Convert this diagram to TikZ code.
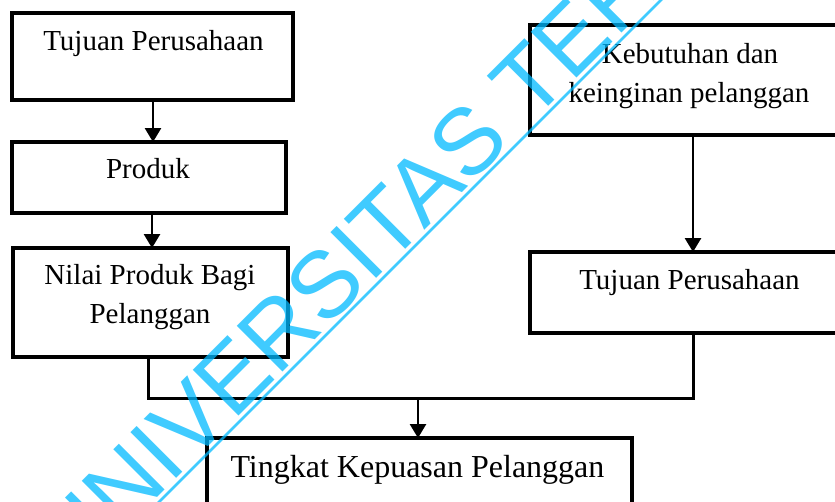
\documentclass[tikz,border=0pt]{standalone}
\usepackage{fontspec}
\setmainfont{Liberation Serif}
\newfontfamily\wmfont{Liberation Sans}
\usetikzlibrary{arrows.meta}
\definecolor{wmcyan}{RGB}{0,185,255}
\begin{document}
\begin{tikzpicture}[x=1pt,y=-1pt,
  box/.style={draw, line width=3.2pt, inner sep=0pt, outer sep=0pt},
  txt/.style={inner sep=0pt, font=\fontsize{29}{39}\selectfont, align=center},
  bigtxt/.style={inner sep=0pt, font=\fontsize{32}{40}\selectfont},
  arr/.style={line width=2.8pt, -{Triangle[width=16pt,length=14pt]}},
  conn/.style={line width=3pt, line join=miter},
  wm/.style={font=\wmfont\fontsize{94}{94}\selectfont, text=wmcyan, opacity=0.75, inner sep=0pt},
  wmline/.style={draw=wmcyan, opacity=0.75, line width=2.5pt},
]
\useasboundingbox (0,0) rectangle (835,501);
\clip (0,0) rectangle (835,501);

% boxes
\node[box, minimum width=281pt, minimum height=87pt] (b1) at (152.5,56.5) {};
\node[box, minimum width=274pt, minimum height=71pt] (b2) at (149,177.5) {};
\node[box, minimum width=275pt, minimum height=109pt] (b3) at (150.5,302.5) {};
\node[box, minimum width=319pt, minimum height=110pt] (k) at (689.5,80) {};
\node[box, minimum width=319pt, minimum height=81pt] (tp) at (689.5,292.5) {};
\node[box, minimum width=425pt, minimum height=82pt] (tk) at (419.5,479) {};

% texts
\node[txt, anchor=base] (t1) at (153.5,50) {Tujuan Perusahaan};
\node[txt, anchor=base] (t2) at (148,178) {Produk};
\node[txt, anchor=base] (t3a) at (150,284) {Nilai Produk Bagi};
\node[txt, anchor=base] (t3b) at (150,323) {Pelanggan};
\node[txt, anchor=base] (tka) at (690,63) {Kebutuhan dan};
\node[txt, anchor=base] (tkb) at (689,102) {keinginan pelanggan};
\node[txt, anchor=base] (ttp) at (689.5,289) {Tujuan Perusahaan};
\node[bigtxt, anchor=base] (ttk) at (417.5,477) {Tingkat Kepuasan Pelanggan};

% connectors
\coordinate (j1) at (148,398);
\coordinate (j2) at (693,398);
\coordinate (jm) at (418,398);
\draw[arr] (b1.south -| 153,0) -- (b2.north -| 153,0);
\draw[arr] (b2.south -| 152,0) -- (b3.north -| 152,0);
\draw[arr] (k.south -| 693,0) -- (tp.north -| 693,0);
\draw[conn] (b3.south -| j1) -- (j1) -- (j2) -- (tp.south -| j2);
\draw[arr] (jm) -- (tk.north -| jm);

% watermark
\draw[wmline] (140,521) -- (690,-29);
\node[wm, rotate=45, anchor=base west] (wmt) at (74.5,580.5) {UNIVERSITAS TER};
\end{tikzpicture}
\end{document}
